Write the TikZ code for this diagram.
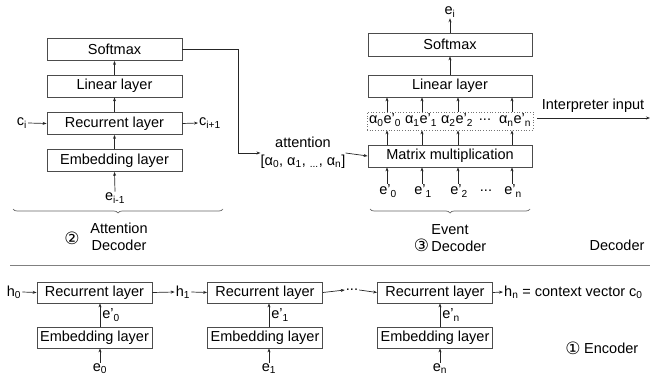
\documentclass[tikz,border=0pt]{standalone}
\usepackage{fontspec}
\setmainfont{Liberation Sans}
\newfontfamily\dejavu{DejaVu Sans}
\usetikzlibrary{arrows.meta,decorations.pathreplacing}
\begin{document}
\begin{tikzpicture}[x=1pt,y=-1pt,
  every node/.style={font=\fontsize{14.5}{17.5}\selectfont, inner sep=1pt},
  box/.style={draw=black!70, line width=0.8pt, minimum height=22pt, inner sep=0pt},
  lbox/.style={box, minimum width=135pt},
  rbox/.style={box, minimum width=164pt},
  ebox/.style={box, minimum width=115pt, minimum height=21pt},
  arr/.style={draw=black!85, line width=0.7pt, -{Stealth[length=4pt,width=3pt]}},
  brc/.style={draw=black!60, line width=0.7pt, decorate, decoration={brace, mirror, amplitude=4pt}},
  circ/.style={font=\dejavu\fontsize{17}{20}\selectfont}
]
\useasboundingbox (0,0) rectangle (650,382);
\clip (0,0) rectangle (650,382);

% ---------- Attention decoder ----------
\node[lbox] (lsoft) at (114.5,49.5) {Softmax};
\node[lbox] (llin)  at (114.5,86)   {Linear layer};
\node[lbox] (lrec)  at (114.5,123.5) {Recurrent layer};
\node[lbox] (lemb)  at (114.5,160.5) {Embedding layer};
\node (ein) at (115,198) {e\textsubscript{i-1}};
\node (ci) at (22,123) {c\textsubscript{i}};
\node[anchor=west] (cip) at (198,123) {c\textsubscript{i+1}};
\draw[arr] (ein.north) -- (lemb.south);
\draw[arr] (lemb.north) -- (lrec.south);
\draw[arr] (lrec.north) -- (llin.south);
\draw[arr] (llin.north) -- (lsoft.south);
\draw[arr] (ci.east) -- (lrec.west);
\draw[arr] (lrec.east) -- (cip.west);
\coordinate (lbl) at (13,209);
\coordinate (lbr) at (223,209);
\draw[brc] (lbl) -- (lbr);
\node[align=center] (attdec) at (119,237) {Attention\\Decoder};
\node[circ] (c2) at (72,238) {②};

% ---------- attention vector ----------
\node[align=center, inner sep=0pt] (attn) at (303,153) {attention\\{}[α\textsubscript{0}, α\textsubscript{1}, \textsubscript{...}, α\textsubscript{n}]};
\draw[arr] (lsoft.east) -- ++(56,0) |- (attn.west);

% ---------- Event decoder ----------
\node[rbox, minimum height=23pt] (rsoft) at (450,44.5) {Softmax};
\node[rbox] (rlin) at (450,86) {Linear layer};
\node[draw=black!55, dotted, line width=0.7pt, minimum width=166pt, minimum height=18pt, inner sep=0pt] (dbox) at (450,121) {};
\node[rbox] (mm) at (450,156) {Matrix multiplication};
\node (ei) at (450,12) {e\textsubscript{i}};
\draw[arr] (rsoft.north) -- (ei.south);
\draw[arr] (rlin.north) -- (rsoft.south);
\draw[arr] (attn.east) -- (mm.west);

\node (a0) at (385,120) {α\textsubscript{0}e'\textsubscript{0}};
\node (a1) at (421,120) {α\textsubscript{1}e'\textsubscript{1}};
\node (a2) at (457,120) {α\textsubscript{2}e'\textsubscript{2}};
\node (ad) at (485,120) {...};
\node (an) at (515,120) {α\textsubscript{n}e'\textsubscript{n}};

\node (p0) at (388,191) {e'\textsubscript{0}};
\node (p1) at (423,191) {e'\textsubscript{1}};
\node (p2) at (459,191) {e'\textsubscript{2}};
\node (pd) at (486,191) {...};
\node (pn) at (513,191) {e'\textsubscript{n}};

\foreach \c/\p in {387/p0,422/p1,458/p2,512/pn}{
  \coordinate (col) at (\c,0);
  \draw[arr] (\p.north -| col) -- (mm.south -| col);
  \draw[arr] (mm.north -| col) -- (dbox.south -| col);
  \draw[arr] (dbox.north -| col) -- (rlin.south -| col);
}
\coordinate (rbl) at (370,209);
\coordinate (rbr) at (530,209);
\draw[brc] (rbl) -- (rbr);
\node[align=center] (evdec) at (450,238) {Event\\{\dejavu\fontsize{17}{17.5}\selectfont ③}\,Decoder};

\coordinate (ii) at (537,118);
\coordinate (io) at (650,118);
\draw[arr] (ii) -- (io);
\node[anchor=south] (iilab) at (593,114) {Interpreter input};
\node (dec) at (617,245) {Decoder};

% ---------- separator ----------
\coordinate (s1) at (10,265);
\coordinate (s2) at (650,265);
\draw[black!50, line width=1pt] (s1) -- (s2);

% ---------- Encoder ----------
\node[ebox] (rec1) at (94.5,292.5) {Recurrent layer};
\node[ebox] (emb1) at (94.5,337.5) {Embedding layer};
\node[ebox] (rec2) at (265,292.5) {Recurrent layer};
\node[ebox] (emb2) at (265,337.5) {Embedding layer};
\node[ebox] (rec3) at (435,292.5) {Recurrent layer};
\node[ebox] (emb3) at (435,337.5) {Embedding layer};

\node (h0) at (14,292) {h\textsubscript{0}};
\node (h1) at (183,292) {h\textsubscript{1}};
\node (hd) at (352,290) {...};
\node[anchor=west] (hn) at (503,292) {h\textsubscript{n} = context vector c\textsubscript{0}};

\draw[arr] (h0.east) -- (rec1.west);
\draw[arr] (rec1.east) -- (h1.west);
\draw[arr] (h1.east) -- (rec2.west);
\draw[arr] (rec2.east) -- (hd.west);
\draw[arr] (hd.east) -- (rec3.west);
\draw[arr] (rec3.east) -- (hn.west);

\node (e0) at (100,369) {e\textsubscript{0}};
\node (e1) at (269,369) {e\textsubscript{1}};
\node (en) at (440,369) {e\textsubscript{n}};
\foreach \e/\emb/\rec/\lab in {e0/emb1/rec1/0, e1/emb2/rec2/1, en/emb3/rec3/n}{
  \draw[arr] (\e.north) -- (\emb.south -| \e);
  \draw[arr] (\emb.north -| \e) -- (\rec.south -| \e) node[midway, right=1pt] {e'\textsubscript{\lab}};
}
\node[circ] (c1) at (573,348) {①};
\node[anchor=west] (encl) at (583,348) {Encoder};
\end{tikzpicture}
\end{document}
